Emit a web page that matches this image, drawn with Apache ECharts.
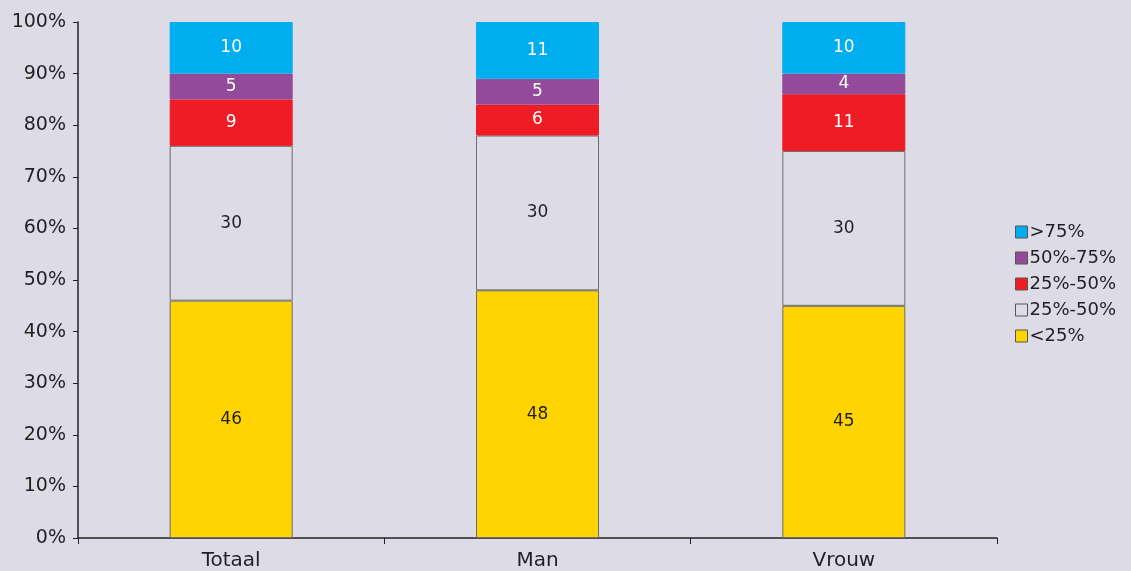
<!DOCTYPE html>
<html>
<head>
<meta charset="utf-8">
<script src="https://cdn.jsdelivr.net/npm/echarts@6/dist/echarts.min.js"></script>
<style>
  html, body { margin: 0; padding: 0; background: #dddbe5; }
  #chart { width: 1131px; height: 571px; }
</style>
</head>
<body>
<div id="chart"></div>
<script>
    // categorieën en waarden (percentages)
    const categories = ['Totaal', 'Man', 'Vrouw']
    const under25 = [46, 48, 45]
    const white25to50 = [30, 30, 30]
    const red25to50 = [9, 6, 11]
    const p50to75 = [5, 5, 4]
    const over75 = [10, 11, 10]
    const yTicks = [0, 10, 20, 30, 40, 50, 60, 70, 80, 90, 100]

    const font = 'DejaVu Sans'
    const textColor = '#231f20'

    function makeSeries(name, data, color, labelColor, border) {
        return {
            name: name,
            type: 'bar',
            stack: 'totaal',
            barWidth: 123,
            data: data,
            itemStyle: {
                color: color,
                borderColor: border ? '#6d6d6d' : color,
                borderWidth: 1
            },
            label: {
                show: true,
                position: 'inside',
                color: labelColor,
                fontFamily: font,
                fontSize: 17
            }
        }
    }

    var myChart = echarts.init(document.getElementById('chart'))

    var option = {
        backgroundColor: '#dddbe5',
        animation: false,
        grid: {
            left: 78,
            right: 134,
            top: 22,
            bottom: 33
        },
        legend: {
            orient: 'vertical',
            left: 1010,
            top: 218,
            itemWidth: 12,
            itemHeight: 12,
            itemGap: 8,
            icon: 'rect',
            itemStyle: { borderColor: '#555555', borderWidth: 1 },
            textStyle: {
                fontFamily: font,
                fontSize: 18,
                color: textColor,
                padding: [0, 0, 0, -3]
            },
            data: ['>75%', '50%-75%', '25%-50%', '25%-50% ', '<25%'],
            formatter: name => name.trim()
        },
        xAxis: {
            type: 'category',
            data: categories,
            axisLine: { lineStyle: { color: '#231f20', width: 1.5 } },
            axisTick: { show: true, length: 6, lineStyle: { color: '#231f20' } },
            axisLabel: {
                color: textColor,
                fontFamily: font,
                fontSize: 20,
                margin: 13
            }
        },
        yAxis: {
            type: 'value',
            min: yTicks[0],
            max: yTicks[yTicks.length - 1],
            interval: 10,
            splitLine: { show: false },
            axisLine: { show: true, lineStyle: { color: '#231f20', width: 1.5 } },
            axisTick: { show: true, length: 5, lineStyle: { color: '#231f20' } },
            axisLabel: {
                color: textColor,
                fontFamily: font,
                fontSize: 19,
                margin: 12,
                formatter: '{value}%'
            }
        },
        series: [
            makeSeries('<25%', under25, '#ffd400', textColor, true),
            makeSeries('25%-50% ', white25to50, '#dddbe5', textColor, true),
            makeSeries('25%-50%', red25to50, '#ee1c25', '#ffffff', false),
            makeSeries('50%-75%', p50to75, '#934a9a', '#ffffff', false),
            makeSeries('>75%', over75, '#00aeef', '#ffffff', false)
        ]
    }

    myChart.setOption(option)
</script>
</body>
</html>
